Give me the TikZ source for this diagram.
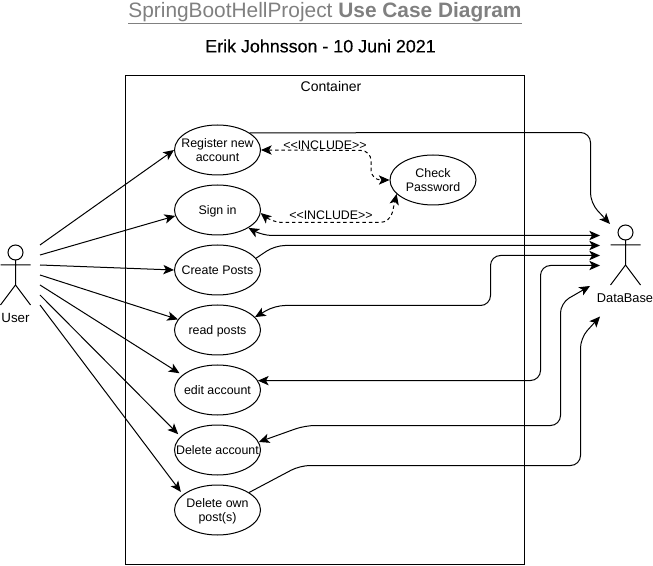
\documentclass[tikz,border=0pt]{standalone}
\usepackage{fontspec}
\setmainfont{Liberation Sans}
\newfontfamily\subfont[FakeBold=0.35]{Liberation Sans}
\usetikzlibrary{shapes.geometric,arrows.meta}
\newcommand\ctext[1]{\makebox[0pt]{\smash{\raisebox{-3.5pt}{\begin{tabular}{@{}c@{}}#1\end{tabular}}}}}
\definecolor{titlegray}{HTML}{808080}
\tikzset{
  base/.style={line width=0.75pt,draw=black},
  usecase/.style={base,ellipse,minimum width=64.5pt,minimum height=37.5pt,inner sep=0pt,
    font=\fontsize{9.3}{10.6}\selectfont},
  lbl/.style={inner sep=0pt,font=\fontsize{9.3}{11}\selectfont},
  assoc/.style={base,-{Stealth[length=8pt,width=7pt,inset=2pt]}},
  both/.style={base,{Stealth[length=8pt,width=7pt,inset=2pt]}-{Stealth[length=8pt,width=7pt,inset=2pt]}},
  route/.style={rounded corners=7.5pt},
  incl/.style={both,dash pattern=on 2.6pt off 2.2pt,route},
  short/.style={shorten >=2.5pt},
}
\begin{document}
\begin{tikzpicture}[x=0.75pt,y=-0.75pt]
\useasboundingbox (0,0) rectangle (653,566);

\node[inner sep=0pt,text=titlegray,font=\fontsize{15.65}{18}\selectfont] (title) at (325,13)
  {\underline{SpringBootHellProject \textbf{Use Case Diagram}}};
\node[inner sep=0pt,font=\fontsize{13.4}{16}\subfont] (sub) at (320.5,46) {Erik Johnsson - 10 Juni 2021};

\node[base,rectangle,anchor=north west,minimum width=299.25pt,minimum height=366.6pt,inner sep=0pt] (cont) at (125,75.5) {};
\node[inner sep=0pt,font=\fontsize{10.5}{12}\selectfont] (contl) at (331,86) {Container};

\node[usecase] (reg) at (217.5,150) {\ctext{Register new\\account}};
\node[usecase] (sign) at (217.5,210) {\ctext{Sign in}};
\node[usecase] (create) at (217.5,270) {\ctext{Create Posts}};
\node[usecase] (read) at (217.5,330) {\ctext{read posts}};
\node[usecase] (edit) at (217.5,390) {\ctext{edit account}};
\node[usecase] (delacc) at (217.5,450) {\ctext{Delete account}};
\node[usecase] (delown) at (217.5,510) {\ctext{Delete own\\post(s)}};
\node[usecase] (check) at (433,180) {\ctext{Check\\Password}};

% User actor
\draw[base] (15.5,252.5) circle (7.5);
\draw[base] (15.5,260) -- (15.5,285) (0.5,265) -- (30.5,265) (0.5,305) -- (15.5,285) -- (30.5,305);
\node[inner sep=0pt,font=\fontsize{10}{12}\selectfont] (userl) at (15.5,318) {User};

% DataBase actor
\draw[base] (625.5,232.5) circle (7.5);
\draw[base] (625.5,240) -- (625.5,265) (610.5,245) -- (640.5,245) (610.5,285) -- (625.5,265) -- (640.5,285);
\node[inner sep=0pt,font=\fontsize{9.6}{12}\selectfont] (dbl) at (625,298) {DataBase};

% free ends
\coordinate (u1) at (40,245);
\coordinate (u2) at (40,255);
\coordinate (u3) at (40,265);
\coordinate (u4) at (40,275);
\coordinate (u5) at (40,285);
\coordinate (u6) at (40,295);
\coordinate (u7) at (40,305);
\coordinate (d1) at (610,224);
\coordinate (d2) at (600,235.5);
\coordinate (d3) at (600,245.5);
\coordinate (d4) at (600,255.5);
\coordinate (d5) at (600,265.5);
\coordinate (d6) at (590,286);
\coordinate (d7) at (600,316.5);

% User associations
\draw[assoc] (u1) -- (reg.west);
\draw[assoc] (u2) -- (sign.188);
\draw[assoc] (u3) -- (create.west);
\draw[assoc] (u4) -- (read.165);
\draw[assoc,short] (u5) -- (edit.157);
\draw[assoc,short] (u6) -- (delacc.160);
\draw[assoc,short] (u7) -- (delown.156);

% DataBase associations
\draw[assoc,route] (reg.28) -- (590.5,132.5) -- (590.5,203) -- (d1);
\draw[both,route] (sign.330) -- (262,235.5) -- (d2);
\draw[assoc,route] (create.17) -- (275,245.5) -- (d3);
\draw[both,route] (read.19) -- (275,305.5) -- (490.5,305.5) -- (490.5,255.5) -- (d4);
\draw[both,route] (edit.13) -- (540.5,380.5) -- (540.5,265.5) -- (d5);
\draw[both,route] (delacc.11) -- (305,425.5) -- (560.5,425.5) -- (560.5,303) -- (d6);
\draw[assoc,route] (delown.29) -- (300,465.5) -- (580.5,465.5) -- (580.5,338) -- (d7);

% Includes
\draw[incl] (reg.east) -- (371,150.5) -- (371,180) -- (check.west);
\draw[incl] (sign.356) -- (272,222.5) -- (390,222.5) -- (check.201);
\node[lbl] (inc1) at (325,145.5) {<{}<INCLUDE>{}>};
\node[lbl] (inc2) at (331,215.5) {<{}<INCLUDE>{}>};
\end{tikzpicture}
\end{document}
